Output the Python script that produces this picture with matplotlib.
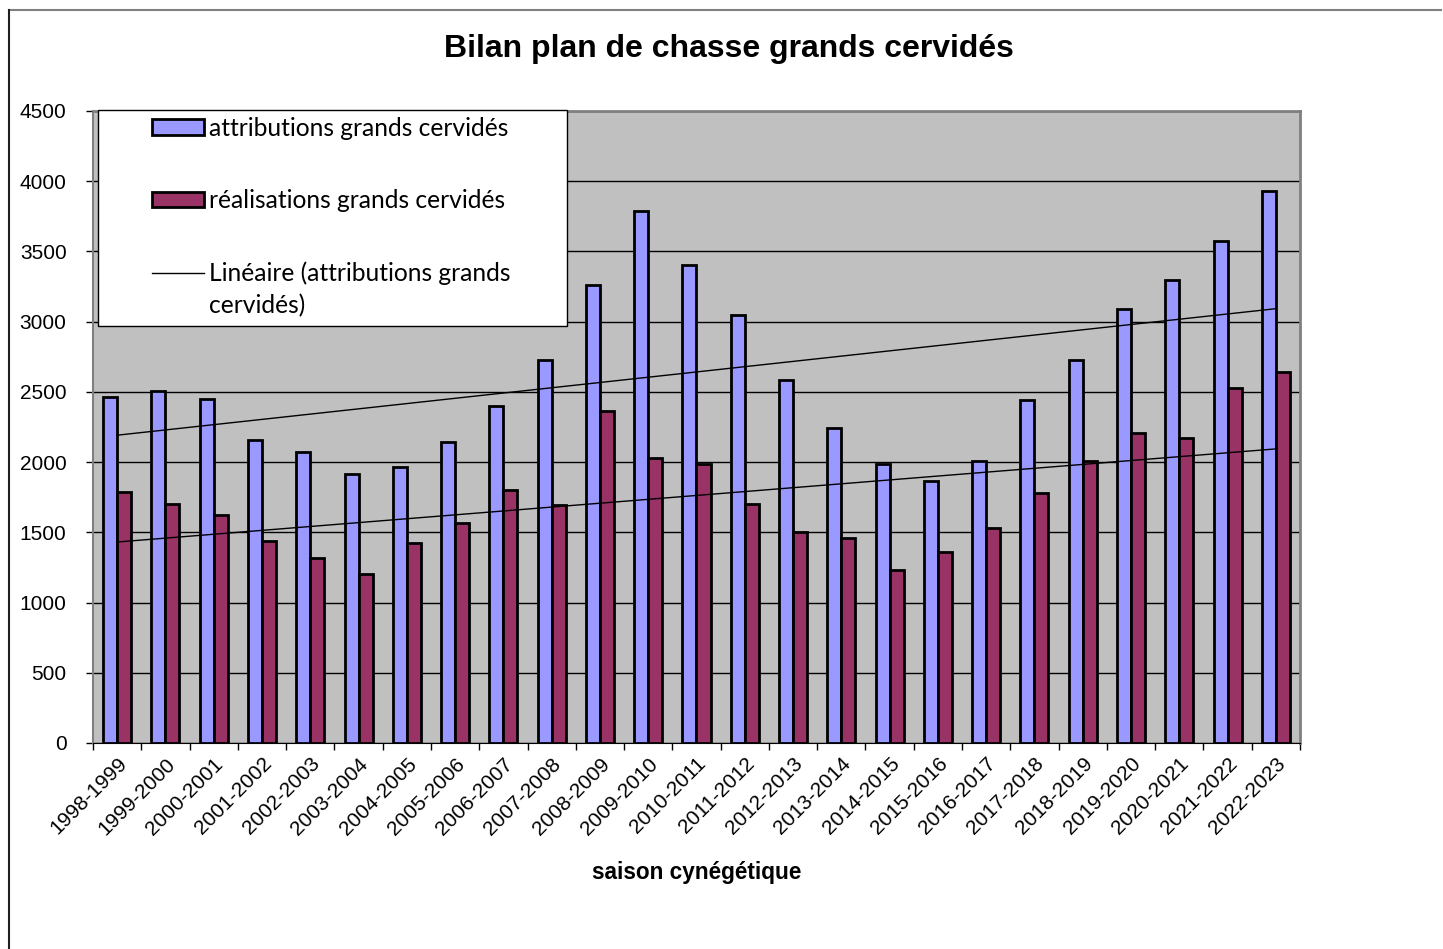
import numpy as np
import matplotlib
matplotlib.use("Agg")
import matplotlib.pyplot as plt
from matplotlib.patches import Rectangle
from matplotlib.lines import Line2D

# seasons and values
saisons = ["1998-1999", "1999-2000", "2000-2001", "2001-2002", "2002-2003",
           "2003-2004", "2004-2005", "2005-2006", "2006-2007", "2007-2008",
           "2008-2009", "2009-2010", "2010-2011", "2011-2012", "2012-2013",
           "2013-2014", "2014-2015", "2015-2016", "2016-2017", "2017-2018",
           "2018-2019", "2019-2020", "2020-2021", "2021-2022", "2022-2023"]
attributions = [2465, 2505, 2450, 2160, 2075, 1915, 1965, 2140, 2400, 2725,
                3260, 3790, 3405, 3045, 2585, 2240, 1990, 1865, 2005, 2445,
                2730, 3090, 3295, 3575, 3930]
realisations = [1785, 1705, 1620, 1440, 1315, 1200, 1425, 1570, 1800, 1695,
                2365, 2030, 1990, 1700, 1505, 1460, 1235, 1360, 1530, 1780,
                2005, 2210, 2170, 2525, 2645]

BLUE = "#9999FF"
PLUM = "#993366"

plt.rcParams["font.family"] = ["Liberation Sans", "DejaVu Sans"]

fig = plt.figure(figsize=(14.43, 9.49), dpi=100)
ax = fig.add_axes([93 / 1443, 1 - 743 / 949, (1300 - 93) / 1443, (743 - 111) / 949])
ax.set_facecolor("#C0C0C0")

x = np.arange(len(saisons))
w = 0.29
ax.bar(x - w / 2, attributions, w, color=BLUE, edgecolor="black", linewidth=2.0, zorder=3)
ax.bar(x + w / 2, realisations, w, color=PLUM, edgecolor="black", linewidth=2.0, zorder=3)

# linear trends
for serie in (attributions, realisations):
    a, b = np.polyfit(x, serie, 1)
    ax.plot([x[0], x[-1]], [a * x[0] + b, a * x[-1] + b], color="black", lw=1.0, zorder=4)

ax.set_xlim(-0.5, len(saisons) - 0.5)
ax.set_ylim(0, 4500)
ax.set_yticks(np.arange(0, 4501, 500))
ax.yaxis.grid(True, color="black", lw=1.0, zorder=1)
ax.set_axisbelow(True)

ax.set_xticks(np.arange(len(saisons) + 1) - 0.5)
ax.set_xticklabels([])
ax.set_xticks(x, minor=True)
ax.set_xticklabels(saisons, minor=True, rotation=45, ha="right", rotation_mode="anchor",
                   fontsize=15)
ax.tick_params(axis="x", which="minor", length=0, pad=8)
ax.tick_params(axis="x", which="major", length=5, width=1, direction="out")
ax.tick_params(axis="y", length=5, width=1, direction="out", labelsize=15, pad=14)

for side in ("top", "right"):
    ax.spines[side].set_color("#808080")
    ax.spines[side].set_linewidth(2)
ax.spines["left"].set_color("#808080")
ax.spines["left"].set_linewidth(1.5)
ax.spines["bottom"].set_color("black")

ax.set_xlabel("saison cynégétique", fontsize=16.3, fontweight="bold", labelpad=16)
fig.text(729 / 1443, 1 - 49 / 949, "Bilan plan de chasse grands cervidés",
         ha="center", va="center", fontsize=23, fontweight="bold")

# legend box
lx0, ly0 = (98 - 93) / 1207, (743 - 326) / 632
box = Rectangle((lx0, ly0), (567 - 98) / 1207, (326 - 110) / 632, transform=ax.transAxes,
                facecolor="white", edgecolor="black", lw=1.0, zorder=10, clip_on=False)
ax.add_patch(box)
handles = [Rectangle((0, 0), 1, 1, facecolor=BLUE, edgecolor="black", lw=2.0),
           Rectangle((0, 0), 1, 1, facecolor=PLUM, edgecolor="black", lw=2.0),
           Line2D([], [], color="black", lw=1.0)]
labels = ["attributions grands cervidés", "réalisations grands cervidés",
          "Linéaire (attributions grands"]
leg = ax.legend(handles, labels, loc="upper left",
                bbox_to_anchor=((152 - 93) / 1207, (743 - 117) / 632),
                frameon=False, prop={"family": "Lato", "size": 17.7},
                handlelength=2.1, handleheight=0.62, handletextpad=0.2,
                labelspacing=2.0, borderpad=0, borderaxespad=0)
leg.set_zorder(11)

# second line of the trend label, under the third entry
fig.canvas.draw()
bb = leg.get_texts()[2].get_window_extent().transformed(fig.transFigure.inverted())
fig.text(bb.x0, bb.y0 - 33 / 949 + (bb.y1 - bb.y0) / 2, "cervidés)", family="Lato",
         fontsize=17.7, va="center", ha="left", zorder=12)

# outer frame (top and left visible)
fig.add_artist(Line2D([9 / 1443, 1441 / 1443], [1 - 10 / 949, 1 - 10 / 949],
                      color="#808080", lw=1.5, transform=fig.transFigure))
fig.add_artist(Line2D([9 / 1443, 9 / 1443], [0, 1 - 10 / 949],
                      color="#202020", lw=1.5, transform=fig.transFigure))

fig.savefig("out.png", dpi=100)
